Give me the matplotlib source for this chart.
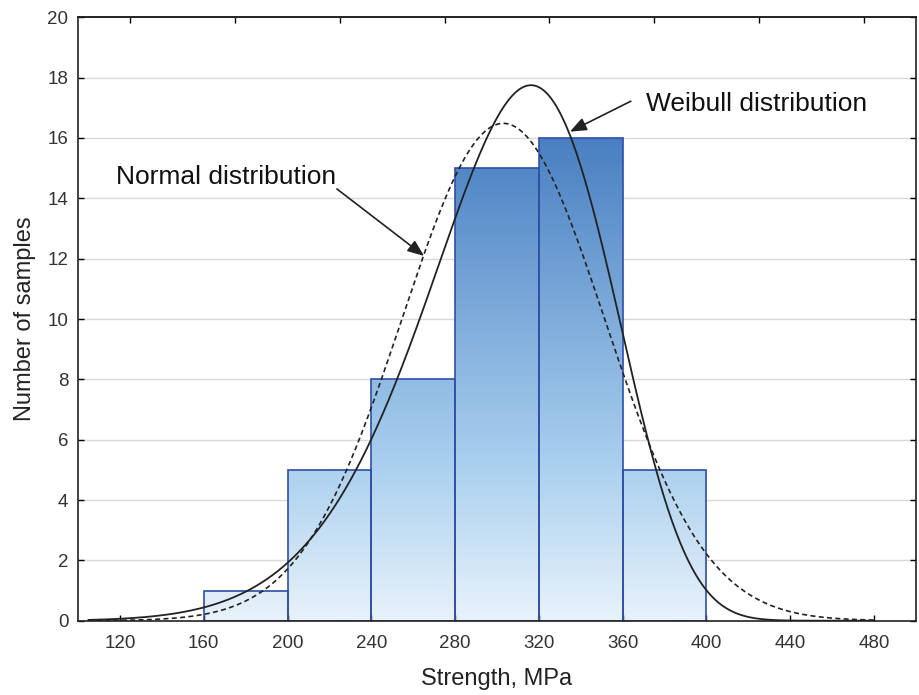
import matplotlib
matplotlib.use('Agg')
import matplotlib.pyplot as plt
from matplotlib.colors import LinearSegmentedColormap
import numpy as np

plt.rcParams['font.family'] = ['Liberation Sans', 'DejaVu Sans']

# histogram of strength values
bin_edges = [160, 200, 240, 280, 320, 360, 400]
counts    = [1, 5, 8, 15, 16, 5]
n_samples = 50
bin_width = 40

# fitted distributions (parameters)
norm_mean  = 303.0
norm_sd    = 48.4
weib_shape = 7.7
weib_scale = 322.0

xticks     = [120, 160, 200, 240, 280, 320, 360, 400, 440, 480]
yticks     = [0, 2, 4, 6, 8, 10, 12, 14, 16, 18, 20]
top_ticks  = [125, 175, 225, 275, 325, 375, 425, 475]

xlabel = 'Strength, MPa'
ylabel = 'Number of samples'

fig = plt.figure(figsize=(9.19, 6.95), dpi=100)
ax = fig.add_axes([0.0849, 0.1069, 0.9118, 0.8682])
ax.set_xlim(100, 500)
ax.set_ylim(0, 20)

# light horizontal grid
for y in yticks[1:-1]:
    ax.axhline(y, color='#d9d9d9', lw=1.0, zorder=0)

# bars with a vertical gradient shared by all bars
cmap = LinearSegmentedColormap.from_list('bars', [(0.0, '#e8f2fb'), (0.33, '#a9cfee'), (1.0, '#4a80c2')])
top = max(counts)
for i in range(len(counts)):
    h = counts[i]
    grad = np.linspace(0, h, 200).reshape(-1, 1)
    ax.imshow(grad, extent=[bin_edges[i], bin_edges[i + 1], 0, h], origin='lower',
              aspect='auto', cmap=cmap, vmin=0, vmax=top, zorder=1, interpolation='bilinear')
ax.bar(bin_edges[:-1], counts, width=bin_width, align='edge', fill=False,
       edgecolor='#2f4fa6', linewidth=1.2, zorder=2)
ax.set_xlim(100, 500)
ax.set_ylim(0, 20)

# distribution curves scaled to counts
xs = np.linspace(105, 480, 600)
scale = n_samples * bin_width
normal = scale * np.exp(-0.5 * ((xs - norm_mean) / norm_sd) ** 2) / (norm_sd * np.sqrt(2 * np.pi))
r = xs / weib_scale
weibull = scale * (weib_shape / weib_scale) * r ** (weib_shape - 1) * np.exp(-r ** weib_shape)
ax.plot(xs, normal, color='#222222', lw=1.2, linestyle=(0, (3, 2)), zorder=3)
ax.plot(xs, weibull, color='#222222', lw=1.3, zorder=3)

# annotations
ax.annotate('', xy=(265.2, 12.09), xytext=(223.6, 14.31),
            arrowprops=dict(arrowstyle='-|>,head_length=0.5,head_width=0.2', color='#222222', lw=1.2,
                            mutation_scale=20, shrinkA=0, shrinkB=0), zorder=4)
ax.text(118.2, 14.72, 'Normal distribution', fontsize=19, ha='left', va='center', color='#111111')
ax.annotate('', xy=(334.8, 16.21), xytext=(363.9, 17.22),
            arrowprops=dict(arrowstyle='-|>,head_length=0.5,head_width=0.2', color='#222222', lw=1.2,
                            mutation_scale=20, shrinkA=0, shrinkB=0), zorder=4)
ax.text(371.0, 17.12, 'Weibull distribution', fontsize=19, ha='left', va='center', color='#111111')

# axes styling
ax.set_xticks(xticks)
ax.set_yticks(yticks)
ax.tick_params(direction='in', length=4, width=1.0, labelsize=13.5, labelcolor='#333333',
               right=True)
ax.tick_params(axis='x', pad=10)
ax.tick_params(axis='y', pad=7)
sec = ax.secondary_xaxis('top')
sec.set_xticks(top_ticks)
sec.set_xticklabels([])
sec.tick_params(direction='in', length=4, width=1.0)
for sp in list(ax.spines.values()) + list(sec.spines.values()):
    sp.set_linewidth(1.2)
    sp.set_color('#222222')

ax.set_xlabel(xlabel, fontsize=17, color='#222222', labelpad=12)
ax.set_ylabel(ylabel, fontsize=17, color='#222222', labelpad=8)

fig.savefig('out.png', dpi=100)
